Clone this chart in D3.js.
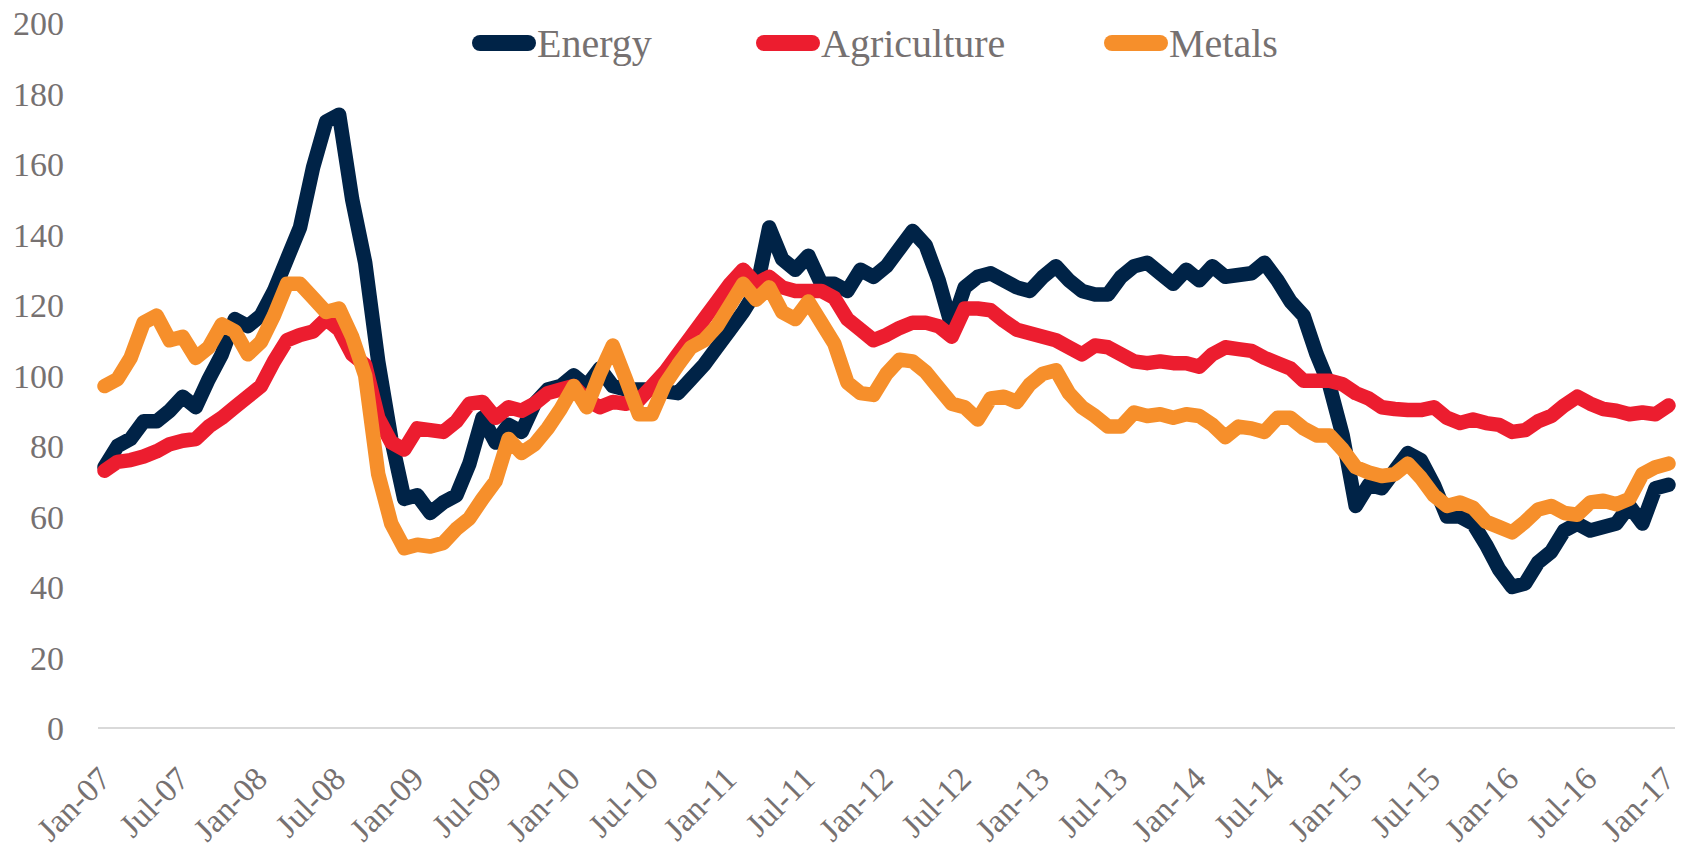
<!DOCTYPE html>
<html>
<head>
<meta charset="utf-8">
<script src="https://cdn.jsdelivr.net/npm/d3@7"></script>
<style>
  body { margin: 0; background: #fff; }
  svg { display: block; }
</style>
</head>
<body>
<div id="chart"></div>
<script>
const layout = {
    width: 1681,
    height: 848,
    plotLeft: 98,
    plotRight: 1675,
    plotTop: 23,
    plotBottom: 728
};

// monthly index values, Jan-07 .. Jan-17
var energy = [
    74, 80, 82, 87, 87, 90, 94, 91, 99, 106, 116, 114,
    117, 124, 133, 142, 159, 172, 174, 150, 132, 104, 82, 65,
    66, 61, 64, 66, 75, 88, 81, 86, 84, 92, 96, 97,
    100, 97, 102, 97, 96, 96, 96, 95.5, 95, 99, 103, 108,
    113, 118, 124, 142, 133, 130, 134, 126, 126, 124, 130, 128,
    131, 136, 141, 137, 127, 114, 125, 128, 129, 127, 125, 124,
    128, 131, 127, 124, 123, 123, 128, 131, 132, 129, 126, 130,
    127, 131, 128, 128.5, 129, 132, 127, 121, 117, 106, 97, 83,
    63, 69, 68, 73, 78, 76, 69, 60, 60, 58, 52, 45,
    40, 41, 47, 50, 56, 58, 56, 57, 58, 63, 58, 68,
    69
];
var agriculture = [
    73, 75.5, 76, 77, 78.5, 80.5, 81.5, 82, 85.5, 88, 91, 94,
    97, 104, 110, 111.5, 112.5, 116, 113, 106, 103, 88, 81, 79,
    85, 84.5, 84, 87, 92, 92.5, 88, 91, 90, 92, 95, 96,
    97, 93, 91, 92.5, 92, 93, 97, 101, 106, 111, 116, 121,
    126, 130, 126, 128, 125, 124, 124, 124, 122, 116, 113, 110,
    111.5, 113.5, 115, 115, 114, 111, 119, 119, 118.5, 115.5, 113, 112,
    111, 110, 108, 106, 108.5, 108, 106, 104, 103.5, 104, 103.5, 103.5,
    102.5, 106, 108, 107.5, 107, 105, 103.5, 102, 98.5, 98.5, 98.5, 97.5,
    95, 93.5, 91, 90.5, 90.2, 90.2, 91, 88, 86.5, 87.5, 86.5, 86,
    84, 84.5, 87, 88.5, 91.5, 94, 92, 90.5, 90, 89, 89.5, 89,
    91.5
];
var metals = [
    97, 99, 105, 115, 117, 110, 111, 105, 108, 114.5, 112.5, 106,
    109.5, 117, 126, 126, 122, 118, 119, 111, 100, 72, 58, 51,
    52, 51.5, 52.5, 56.5, 59.5, 65, 70, 82, 78, 80.5, 85, 90.5,
    97, 91, 100.5, 108.5, 99, 89, 89, 97.5, 103, 108, 110, 114,
    120, 126, 121.5, 125, 118, 116, 121, 115, 109, 98, 95, 94.5,
    100.5, 104.5, 104, 101, 96.5, 92, 91, 87.5, 93.5, 94, 92.5, 97.5,
    100.5, 101.5, 95, 91, 88.5, 85.5, 85.5, 89.5, 88.5, 89, 88, 89,
    88.5, 86, 82.5, 85.5, 85, 84, 88, 88, 85, 83, 83, 79,
    74, 72.5, 71.5, 72, 75, 71, 66, 63, 64, 62.5, 58.5, 57,
    55.5, 58.5, 62, 63, 61, 60.5, 64, 64.5, 63.5, 65, 72, 74,
    75
];

var months = d3.timeMonth.range(new Date(2007, 0, 1), new Date(2017, 1, 1));

var tickLabels = ["Jan-07", "Jul-07", "Jan-08", "Jul-08", "Jan-09", "Jul-09", "Jan-10",
    "Jul-10", "Jan-11", "Jul-11", "Jan-12", "Jul-12", "Jan-13", "Jul-13", "Jan-14",
    "Jul-14", "Jan-15", "Jul-15", "Jan-16", "Jul-16", "Jan-17"];
var yTicks = [0, 20, 40, 60, 80, 100, 120, 140, 160, 180, 200];

var seriesNames = ["Energy", "Agriculture", "Metals"];
var seriesColors = ["#002347", "#ec1d2f", "#f68f2b"];
var seriesValues = [energy, agriculture, metals];

const textGray = "#767171";
const fontFamily = "'Liberation Serif', 'Times New Roman', serif";

let svg = d3.select("#chart").append("svg")
    .attr("width", layout.width)
    .attr("height", layout.height)
    .attr("viewBox", [0, 0, layout.width, layout.height].join(" "))
    .style("background", "#fff");

let xScale = d3.scalePoint()
    .domain(d3.range(months.length))
    .range([layout.plotLeft, layout.plotRight])
    .padding(0.5);
let yScale = d3.scaleLinear()
    .domain([0, 200])
    .range([layout.plotBottom, layout.plotTop]);

// y axis, labels only
let yAxis = svg.append("g")
    .attr("transform", "translate(64,0)")
    .call(d3.axisLeft(yScale).tickValues(yTicks).tickSize(0).tickPadding(0));
yAxis.select(".domain").remove();
yAxis.selectAll("text")
    .attr("dy", "0.34em")
    .attr("font-family", fontFamily)
    .attr("font-size", 34)
    .attr("fill", textGray);

// x axis: grey baseline + rotated labels every 6 months
let xAxis = svg.append("g")
    .attr("transform", `translate(0,${layout.plotBottom})`)
    .call(d3.axisBottom(xScale)
        .tickValues(d3.range(0, months.length, 6))
        .tickFormat((d, i) => tickLabels[i])
        .tickSize(0)
        .tickSizeOuter(0));
xAxis.select(".domain")
    .attr("d", `M${layout.plotLeft},0H${layout.plotRight}`)
    .attr("stroke", "#d9d9d9")
    .attr("stroke-width", 2);
xAxis.selectAll("text")
    .attr("x", 0)
    .attr("y", 0)
    .attr("dy", null)
    .attr("transform", "translate(0,45) rotate(-45)")
    .attr("text-anchor", "end")
    .attr("dominant-baseline", "central")
    .attr("font-family", fontFamily)
    .attr("font-size", 33)
    .attr("fill", textGray);

// series lines
let line = d3.line()
    .x((d, i) => xScale(i))
    .y(d => yScale(d));

for (let s = 0; s < seriesNames.length; s++) {
    svg.append("path")
        .datum(seriesValues[s])
        .attr("fill", "none")
        .attr("stroke", seriesColors[s])
        .attr("stroke-width", 14.5)
        .attr("stroke-linejoin", "round")
        .attr("stroke-linecap", "round")
        .attr("d", line);
}

// legend across the top
var legendX = [480, 764, 1112];
let legend = svg.append("g");
for (let s = 0; s < seriesNames.length; s++) {
    let g = legend.append("g").attr("transform", `translate(${legendX[s]},43)`);
    g.append("line")
        .attr("x1", 0).attr("x2", 48)
        .attr("y1", 0).attr("y2", 0)
        .attr("stroke", seriesColors[s])
        .attr("stroke-width", 16)
        .attr("stroke-linecap", "round");
    g.append("text")
        .attr("x", 57)
        .attr("y", 14)
        .text(seriesNames[s])
        .attr("font-family", fontFamily)
        .attr("font-size", 40)
        .attr("fill", textGray);
}
</script>
</body>
</html>
